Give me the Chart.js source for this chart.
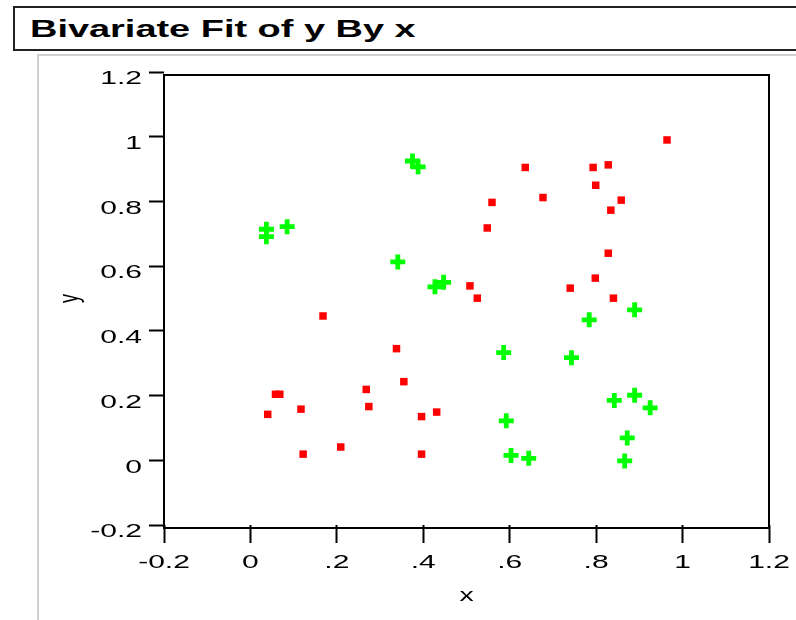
<!DOCTYPE html>
<html>
<head>
<meta charset="utf-8">
<title>Bivariate Fit of y By x</title>
<script src="https://cdn.jsdelivr.net/npm/chart.js@4.4.1/dist/chart.umd.min.js"></script>
<style>
  html, body { margin: 0; padding: 0; background: #fff; }
  body { width: 796px; height: 620px; position: relative; overflow: hidden; font-family: 'Liberation Sans', Arial, sans-serif; }
  .title-box { position: absolute; left: 13px; top: 6px; right: -10px; height: 41px; border: 2px solid #222; background: #fff; }
  .title-box span { position: absolute; left: 15px; top: 9px; font-size: 24px; line-height: 24px; font-weight: bold; color: #000; white-space: nowrap; transform: scaleX(1.58); transform-origin: left top; }
  .panel { position: absolute; left: 37px; top: 54px; right: -10px; bottom: -10px; border-left: 2px solid #cfcfcf; border-top: 2px solid #cfcfcf; }
  #chart { position: absolute; left: 0; top: 0; }
</style>
</head>
<body>
<div class="title-box"><span>Bivariate Fit of y By x</span></div>
<div class="panel"></div>
<canvas id="chart" width="796" height="620"></canvas>
<script>
// ---- data ----
const redX = [0.964, 0.636, 0.793, 0.828, 0.799, 0.677, 0.858, 0.834, 0.559, 0.548,
              0.828, 0.798, 0.740, 0.840, 0.508, 0.525, 0.168, 0.338, 0.355, 0.268,
              0.274, 0.058, 0.068, 0.040, 0.117, 0.122, 0.209, 0.396, 0.431, 0.396];
const redY = [0.990, 0.905, 0.905, 0.913, 0.850, 0.812, 0.804, 0.773, 0.797, 0.718,
              0.640, 0.563, 0.532, 0.501, 0.539, 0.501, 0.446, 0.345, 0.243, 0.219,
              0.166, 0.204, 0.204, 0.142, 0.158, 0.019, 0.041, 0.135, 0.149, 0.019];

const greenX = [0.375, 0.388, 0.037, 0.037, 0.085, 0.341, 0.427, 0.447, 0.889, 0.784,
                0.586, 0.743, 0.842, 0.889, 0.925, 0.592, 0.872, 0.603, 0.644, 0.866];
const greenY = [0.925, 0.907, 0.714, 0.691, 0.722, 0.613, 0.536, 0.550, 0.465, 0.434,
                0.333, 0.317, 0.185, 0.201, 0.162, 0.122, 0.069, 0.015, 0.006, -0.002];

const xTickLabels = ['-0.2', '0', '.2', '.4', '.6', '.8', '1', '1.2'];
const yTickLabels = ['-0.2', '0', '0.2', '0.4', '0.6', '0.8', '1', '1.2'];

const toPoints = (xs, ys) => xs.map((x, i) => ({ x, y: ys[i] }));

// the original picture has its text stretched wide; widen every label about its anchor
const STRETCH = 1.58;
const canvas = document.getElementById('chart');
const ctx = canvas.getContext('2d');
const plainFill = ctx.fillText.bind(ctx);
ctx.fillText = function (text, x, y, maxWidth) {
  const m = ctx.getTransform();
  const p = m.transformPoint(new DOMPoint(x, y));
  ctx.setTransform(new DOMMatrix().translate(p.x, p.y).scale(STRETCH, 1).translate(-p.x, -p.y).multiply(m));
  if (maxWidth === undefined) plainFill(text, x, y); else plainFill(text, x, y, maxWidth);
  ctx.setTransform(m);
};

const font = { family: "'Liberation Sans', Arial, sans-serif", size: 19 };

// plot frame sits 3px below the tick grid, as in the original
const framePlugin = {
  id: 'frame',
  beforeDatasetsDraw(chart) {
    const { ctx, chartArea: a } = chart;
    ctx.save();
    ctx.strokeStyle = '#000';
    ctx.lineWidth = 2;
    ctx.strokeRect(a.left, a.top + 3, a.right - a.left, a.bottom - a.top);
    ctx.restore();
  },
};

new Chart(ctx, {
  type: 'scatter',
  data: {
    datasets: [
      {
        label: 'red',
        data: toPoints(redX, redY),
        pointStyle: 'rect',
        pointRadius: 5.3,
        backgroundColor: '#ff0000',
        borderWidth: 0,
      },
      {
        label: 'green',
        data: toPoints(greenX, greenY),
        pointStyle: 'cross',
        pointRadius: 7.5,
        borderColor: '#00ff00',
        borderWidth: 4.8,
      },
    ],
  },
  options: {
    responsive: false,
    animation: false,
    events: [],
    layout: { padding: { left: 40, top: 72, right: 27, bottom: 0 } },
    plugins: { legend: { display: false }, tooltip: { enabled: false } },
    scales: {
      x: {
        type: 'linear', min: -0.2, max: 1.2,
        afterFit: s => { s.height = 95; },
        border: { display: false },
        grid: { drawOnChartArea: false, drawTicks: true, tickLength: 18, tickWidth: 2, tickColor: '#000' },
        ticks: { stepSize: 0.2, maxRotation: 0, autoSkip: false, padding: 8, color: '#000', font,
                 callback: (v, i) => xTickLabels[i] },
        title: { display: true, text: 'x', color: '#000', font: { ...font, size: 18 }, padding: { top: 0, bottom: 13 } },
      },
      y: {
        type: 'linear', min: -0.2, max: 1.2,
        afterFit: s => { s.width = 124; },
        border: { display: false },
        grid: { drawOnChartArea: false, drawTicks: true, tickLength: 15, tickWidth: 2, tickColor: '#000' },
        ticks: { stepSize: 0.2, autoSkip: false, padding: 7, labelOffset: 7, color: '#000', font,
                 callback: (v, i) => yTickLabels[i] },
        title: { display: true, text: 'y', color: '#000', font: { ...font, size: 18 }, padding: { top: 19, bottom: 0 } },
      },
    },
  },
  plugins: [framePlugin],
});
</script>
</body>
</html>
